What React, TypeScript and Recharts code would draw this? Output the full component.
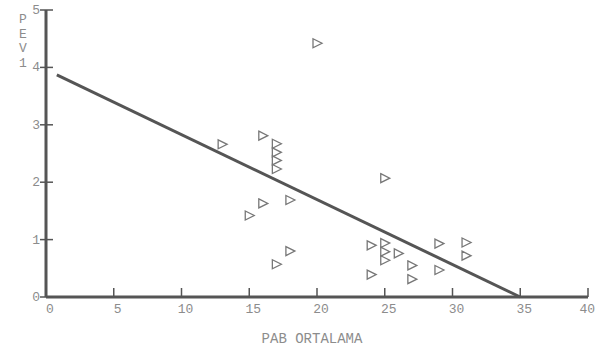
import { ScatterChart, Scatter, XAxis, YAxis, ReferenceLine } from 'recharts'

const X_TICKS = [0, 5, 10, 15, 20, 25, 30, 35, 40]
const Y_TICKS = [0, 1, 2, 3, 4, 5]

// PAB ortalama (x) vs PEV1 (y)
const PAB = [20, 13, 16, 17, 17, 17, 17, 18, 16, 15, 18, 17, 25, 24, 25, 25, 25, 26, 27, 29, 31, 31, 24, 27, 29]
const PEV1 = [4.42, 2.66, 2.81, 2.67, 2.52, 2.38, 2.23, 1.69, 1.63, 1.42, 0.8, 0.57, 2.07, 0.9, 0.94, 0.79, 0.64, 0.76, 0.55, 0.93, 0.95, 0.72, 0.39, 0.31, 0.47]

// fitted line end points
const FIT_X = [0.8, 35]
const FIT_Y = [3.87, 0]

const points = PAB.map((x, i) => ({ x, y: PEV1[i] }))

const FONT = '"Liberation Mono", "DejaVu Sans Mono", monospace'
const AXIS = '#555'
const TEXT = '#8c8c8c'

function Triangle(props: any) {
  const { cx, cy } = props
  if (cx == null || cy == null) return null
  return (
    <path
      d={`M${cx - 4},${cy - 4.5} L${cx + 5},${cy} L${cx - 4},${cy + 4.5} Z`}
      fill="none"
      stroke="#777"
      strokeWidth={1.3}
    />
  )
}

function XTick(props: any) {
  const { x, y, payload } = props
  // last label sits right at the page edge, keep it inside
  const last = payload.value === X_TICKS[X_TICKS.length - 1]
  return (
    <g>
      <line x1={x} x2={x} y1={y - 9} y2={y} stroke={AXIS} strokeWidth={1.5} />
      <text
        x={last ? 595 : x + 4}
        y={y + 16}
        textAnchor={last ? 'end' : 'middle'}
        fontSize={13}
        fill={TEXT}
        fontFamily={FONT}
      >
        {payload.value}
      </text>
    </g>
  )
}

function YTick(props: any) {
  const { x, y, payload } = props
  return (
    <g>
      <line x1={x - 6} x2={x + 7} y1={y} y2={y} stroke={AXIS} strokeWidth={1.5} />
      <text x={x - 6} y={y + 4} textAnchor="end" fontSize={13} fill={TEXT} fontFamily={FONT}>
        {payload.value}
      </text>
    </g>
  )
}

export default function App() {
  return (
    <div style={{ width: 596, height: 351, background: '#fff' }}>
      <style>{'body{margin:0}'}</style>
      <ScatterChart width={596} height={351} margin={{ top: 10, right: 8, left: 0, bottom: 24 }}>
        <XAxis
          type="number"
          dataKey="x"
          domain={[0, 40]}
          ticks={X_TICKS}
          tickLine={false}
          tickSize={0}
          tickMargin={0}
          tick={<XTick />}
          axisLine={{ stroke: AXIS, strokeWidth: 3 }}
          height={30}
          label={{
            content: (p: any) => {
              const vb = p.viewBox
              return (
                <text x={vb.x + vb.width / 2 - 5} y={vb.y + 46} textAnchor="middle" fontSize={14} fill={TEXT} fontFamily={FONT}>
                  PAB ORTALAMA
                </text>
              )
            },
          }}
        />
        <YAxis
          type="number"
          dataKey="y"
          domain={[0, 5]}
          ticks={Y_TICKS}
          tickLine={false}
          tickSize={0}
          tickMargin={0}
          tick={<YTick />}
          axisLine={{ stroke: AXIS, strokeWidth: 3 }}
          width={46}
          label={{
            content: () => (
              <text x={23} y={23} textAnchor="middle" fontSize={13} fill={TEXT} fontFamily={FONT}>
                {['P', 'E', 'V', '1'].map((c, i) => (
                  <tspan key={i} x={23} dy={i === 0 ? 0 : 14.5}>
                    {c}
                  </tspan>
                ))}
              </text>
            ),
          }}
        />
        <ReferenceLine
          segment={[
            { x: FIT_X[0], y: FIT_Y[0] },
            { x: FIT_X[1], y: FIT_Y[1] },
          ]}
          stroke={AXIS}
          strokeWidth={3}
          ifOverflow="visible"
        />
        <Scatter data={points} shape={<Triangle />} isAnimationActive={false} />
      </ScatterChart>
    </div>
  )
}
